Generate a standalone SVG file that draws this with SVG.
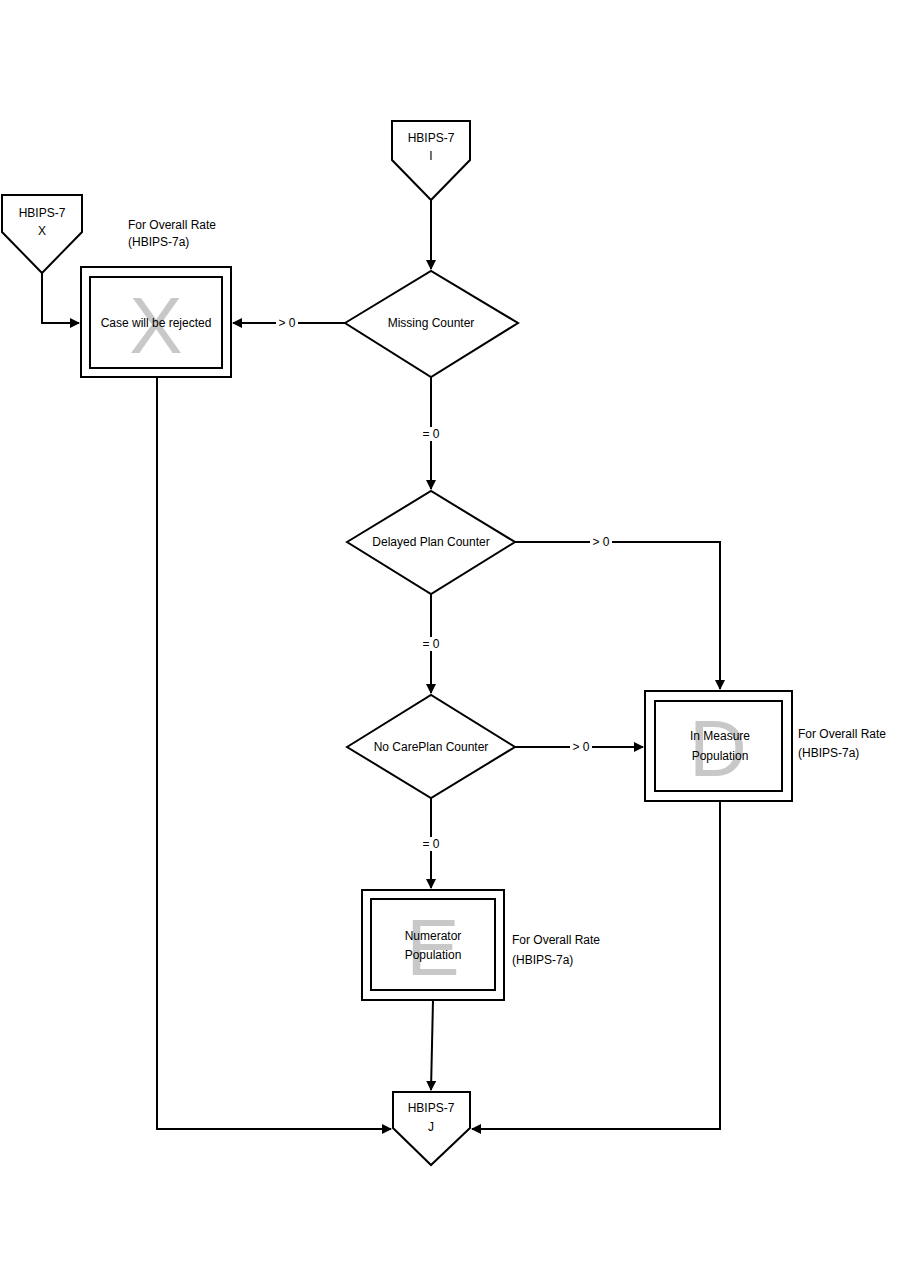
<svg xmlns="http://www.w3.org/2000/svg" width="900" height="1286" viewBox="0 0 900 1286">
<style>
.s{fill:#fff;stroke:#000;stroke-width:2}
.c{fill:none;stroke:#000;stroke-width:2}
text{font-family:"Liberation Sans",Arial,sans-serif;font-size:12px;fill:#000}
.m{text-anchor:middle}
.big{font-size:80px;fill:#c8c8c8;text-anchor:middle}
.lb{fill:#fff}
</style>
<defs><marker id="a" markerWidth="10" markerHeight="10" refX="9" refY="5" orient="auto" markerUnits="userSpaceOnUse"><path d="M0,0L10,5L0,10z" fill="#000"/></marker></defs>
<rect width="900" height="1286" fill="#fff"/>
<g id="connectors">
<path class="c" d="M431,200V269" marker-end="url(#a)"/>
<path class="c" d="M42,273V323H79" marker-end="url(#a)"/>
<path class="c" d="M345,323H233" marker-end="url(#a)"/>
<path class="c" d="M431,377V489" marker-end="url(#a)"/>
<path class="c" d="M515,542H720V689" marker-end="url(#a)"/>
<path class="c" d="M431,594V693" marker-end="url(#a)"/>
<path class="c" d="M515,747H643" marker-end="url(#a)"/>
<path class="c" d="M431,798V888" marker-end="url(#a)"/>
<path class="c" d="M433,1000L431,1090" marker-end="url(#a)"/>
<path class="c" d="M157,377V1129H391" marker-end="url(#a)"/>
<path class="c" d="M720,801V1129H472" marker-end="url(#a)"/>
<rect class="lb" x="276" y="316" width="22" height="14"/><text x="287" y="327" class="m">&gt; 0</text>
<rect class="lb" x="420" y="427" width="22" height="14"/><text x="431" y="438" class="m">= 0</text>
<rect class="lb" x="590" y="535" width="22" height="14"/><text x="601" y="546" class="m">&gt; 0</text>
<rect class="lb" x="420" y="637" width="22" height="14"/><text x="431" y="648" class="m">= 0</text>
<rect class="lb" x="570" y="740" width="22" height="14"/><text x="581" y="751" class="m">&gt; 0</text>
<rect class="lb" x="420" y="837" width="22" height="14"/><text x="431" y="848" class="m">= 0</text>
</g>
<g id="hbips7I"><path class="s" d="M392,121H470V160L431,200L392,160Z"/><text x="431" y="142" class="m">HBIPS-7</text><text x="431" y="160" class="m">I</text></g>
<g id="hbips7X"><path class="s" d="M2,195H82V232L42,273L2,232Z"/><text x="42" y="217" class="m">HBIPS-7</text><text x="42" y="235" class="m">X</text></g>
<g id="rejected"><rect class="s" x="81" y="267" width="150" height="110"/><rect class="s" x="90" y="277" width="132" height="91"/><text x="156" y="353" class="big">X</text><text x="156" y="327" class="m">Case will be rejected</text></g>
<text x="128" y="229">For Overall Rate</text><text x="128" y="246">(HBIPS-7a)</text>
<g id="missing"><path class="s" d="M345,323L431,271L518,323L431,377Z"/><text x="431" y="327" class="m">Missing Counter</text></g>
<g id="delayed"><path class="s" d="M347,542L431,491L515,542L431,594Z"/><text x="431" y="546" class="m">Delayed Plan Counter</text></g>
<g id="nocare"><path class="s" d="M347,747L431,695L515,747L431,798Z"/><text x="431" y="751" class="m">No CarePlan Counter</text></g>
<g id="inmeasure"><rect class="s" x="645" y="691" width="147" height="110"/><rect class="s" x="655" y="701" width="127" height="90"/><text x="718" y="776" class="big">D</text><text x="720" y="740" class="m">In Measure</text><text x="720" y="760" class="m">Population</text></g>
<text x="798" y="738">For Overall Rate</text><text x="798" y="757">(HBIPS-7a)</text>
<g id="numerator"><rect class="s" x="362" y="890" width="142" height="110"/><rect class="s" x="371" y="899" width="124" height="91"/><text x="433" y="975" class="big">E</text><text x="433" y="940" class="m">Numerator</text><text x="433" y="959" class="m">Population</text></g>
<text x="512" y="944">For Overall Rate</text><text x="512" y="964">(HBIPS-7a)</text>
<g id="hbips7J"><path class="s" d="M393,1092H470V1128L431,1165L393,1128Z"/><text x="431" y="1112" class="m">HBIPS-7</text><text x="431" y="1131" class="m">J</text></g>
</svg>
